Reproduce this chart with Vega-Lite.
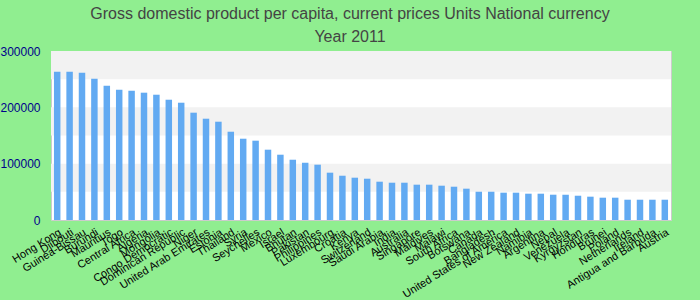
{
  "$schema": "https://vega.github.io/schema/vega-lite/v6.json",
  "width": 620,
  "height": 169,
  "autosize": {"type": "none"},
  "padding": {"left": 51, "top": 51, "right": 29, "bottom": 80},
  "background": "#90ee90",
  "title": {
    "text": ["Gross domestic product per capita, current prices Units National currency", "Year 2011"],
    "font": "Liberation Sans",
    "fontSize": 16,
    "fontWeight": "normal",
    "color": "#444444",
    "anchor": "middle",
    "dx": -11,
    "offset": 0,
    "lineHeight": 23
  },
  "config": {
    "view": {"fill": "white", "stroke": "#cccccc"},
    "axis": {"labelFont": "Liberation Sans"}
  },
  "layer": [
    {
      "data": {"values": [
        {"lo": 50000, "hi": 100000},
        {"lo": 150000, "hi": 200000},
        {"lo": 250000, "hi": 300000}
      ]},
      "mark": {"type": "rect", "color": "#f2f2f2"},
      "encoding": {
        "y": {"field": "lo", "type": "quantitative"},
        "y2": {"field": "hi"}
      }
    },
    {
      "data": {"values": [
        {"country": "Hong Kong", "value": 263250},
        {"country": "Djibouti", "value": 263000},
        {"country": "Guinea-Bissau", "value": 261500},
        {"country": "Burundi", "value": 250800},
        {"country": "Mauritius", "value": 238400},
        {"country": "Togo", "value": 231300},
        {"country": "Central Africa", "value": 229500},
        {"country": "Algeria", "value": 226000},
        {"country": "Mongolia", "value": 222400},
        {"country": "Congo Democratic", "value": 213500},
        {"country": "Dominican Republic", "value": 208200},
        {"country": "Niger", "value": 190500},
        {"country": "United Arab Emirates", "value": 179800},
        {"country": "Estonia", "value": 174500},
        {"country": "Thailand", "value": 156700},
        {"country": "Syria", "value": 144300},
        {"country": "Seychelles", "value": 140800},
        {"country": "Mexico", "value": 124800},
        {"country": "Israel", "value": 115900},
        {"country": "Bhutan", "value": 107000},
        {"country": "Pakistan", "value": 101700},
        {"country": "Philippines", "value": 98200},
        {"country": "Luxembourg", "value": 84000},
        {"country": "Croatia", "value": 78600},
        {"country": "Kenya", "value": 75100},
        {"country": "Switzerland", "value": 73300},
        {"country": "Saudi Arabia", "value": 68000},
        {"country": "India", "value": 66200},
        {"country": "Australia", "value": 66200},
        {"country": "Singapore", "value": 62700},
        {"country": "Maldives", "value": 62700},
        {"country": "Malawi", "value": 60900},
        {"country": "South Africa", "value": 59100},
        {"country": "Botswana", "value": 55600},
        {"country": "Canada", "value": 50200},
        {"country": "Bangladesh", "value": 50200},
        {"country": "United States of America", "value": 48500},
        {"country": "New Zealand", "value": 48500},
        {"country": "Namibia", "value": 46700},
        {"country": "Argentina", "value": 46700},
        {"country": "Nepal", "value": 44900},
        {"country": "Venezuela", "value": 44900},
        {"country": "Kyrgyzstan", "value": 43100},
        {"country": "Honduras", "value": 41400},
        {"country": "Brunei", "value": 39600},
        {"country": "Poland", "value": 39600},
        {"country": "Netherlands", "value": 36000},
        {"country": "Ireland", "value": 36000},
        {"country": "Antigua and Barbuda", "value": 36000},
        {"country": "Austria", "value": 36000}
      ]},
      "mark": {"type": "bar", "color": "#62aaf2", "width": {"band": 0.58}},
      "encoding": {
        "x": {
          "field": "country",
          "type": "nominal",
          "sort": null,
          "axis": {
            "title": null,
            "labelAngle": -32,
            "labelFontSize": 11,
            "labelColor": "#000000",
            "labelOverlap": false,
            "labelBound": false,
            "labelLimit": 0,
            "ticks": false,
            "domain": false,
            "labelPadding": 6
          }
        },
        "y": {
          "field": "value",
          "type": "quantitative",
          "scale": {"domain": [0, 300000], "nice": false},
          "axis": {
            "title": null,
            "values": [0, 50000, 100000, 150000, 200000, 250000, 300000],
            "format": "d",
            "grid": false,
            "ticks": false,
            "domain": false,
            "labelColor": "#00008b",
            "labelFontSize": 12,
            "labelPadding": 11
          }
        }
      }
    }
  ]
}
